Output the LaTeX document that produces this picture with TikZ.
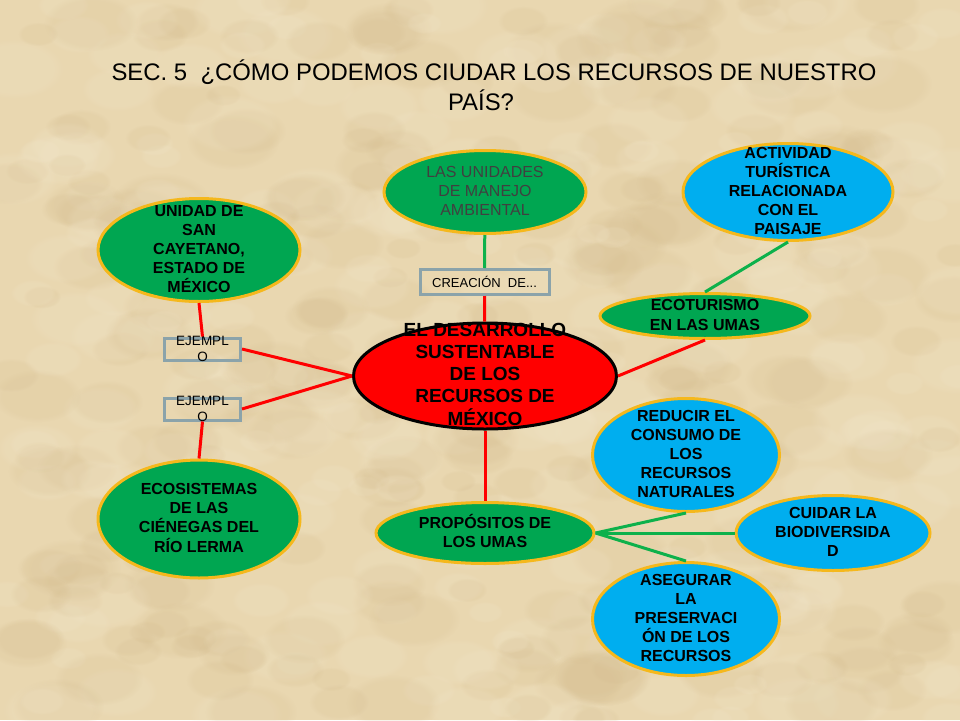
\documentclass[tikz,border=0pt]{standalone}
\usepackage{fontspec}
\setmainfont{Liberation Sans}
\usetikzlibrary{shapes.geometric,fadings}
\definecolor{paper}{HTML}{E9D7B0}
\definecolor{blotch}{HTML}{D2B98A}
\definecolor{pale}{HTML}{F5EAD0}
\definecolor{redline}{HTML}{FF0000}
\definecolor{greenfill}{HTML}{00A651}
\definecolor{greenline}{HTML}{0DB14B}
\definecolor{bluefill}{HTML}{00AEEF}
\definecolor{goldline}{HTML}{F5B81C}
\definecolor{boxline}{HTML}{8BA3AA}
\newcommand{\lbl}[3]{\makebox[0pt]{\smash{\raisebox{-.5em}{\fontsize{#1}{#2}\selectfont
  \begin{tabular}{@{}c@{}}#3\end{tabular}}}}}
\begin{document}
\begin{tikzpicture}[x=1pt,y=-1pt,
    bubble/.style={ellipse,draw=goldline,line width=3pt,inner sep=0pt},
    greenbub/.style={bubble,fill=greenfill},
    bluebub/.style={bubble,fill=bluefill},
    tagbox/.style={rectangle,draw=boxline,line width=3pt,inner sep=0pt},
    redlink/.style={draw=redline,line width=3pt},
    greenlink/.style={draw=greenline,line width=3pt}]
  \useasboundingbox (0,0) rectangle (960,720);
  % paper
  \fill[paper] (0,0) rectangle (960,720);
  \pgfmathsetseed{7}
  \foreach \i in {1,...,260}{
    \pgfmathsetmacro{\bx}{random(0,960)}
    \pgfmathsetmacro{\by}{random(0,720)}
    \pgfmathsetmacro{\br}{random(18,50)}
    \fill[blotch,opacity=.16,path fading=circle with fuzzy edge 20 percent] (\bx,\by) ellipse [x radius=\br pt,y radius=.6*\br pt];
    \pgfmathsetmacro{\bx}{random(0,960)}
    \pgfmathsetmacro{\by}{random(0,720)}
    \fill[pale,opacity=.16,path fading=circle with fuzzy edge 20 percent] (\bx,\by) ellipse [x radius=\br pt,y radius=.6*\br pt];
  }
  \node[inner sep=0pt,align=center,font=\fontsize{23.9}{30}\selectfont] (titulo) at (494,85)
    {SEC. 5\ \ ¿CÓMO PODEMOS CIUDAR LOS RECURSOS DE NUESTRO\\PAÍS?\hspace*{26pt}};
  % bubbles
  \node[ellipse,draw=black,fill=redline,line width=3pt,inner sep=0pt,minimum width=263pt,minimum height=106pt] (central) at (485,376)
    {\textbf{\lbl{19}{22}{EL DESARROLLO\\SUSTENTABLE\\DE LOS\\RECURSOS DE\\MÉXICO}}};
  \node[greenbub,minimum width=202pt,minimum height=83pt] (manejo) at (485,192)
    {\color{black!75}\lbl{16}{19}{LAS UNIDADES\\DE MANEJO\\AMBIENTAL}};
  \node[bluebub,minimum width=210pt,minimum height=97pt] (actividad) at (788,192)
    {\textbf{\lbl{16}{19}{ACTIVIDAD\\TURÍSTICA\\RELACIONADA\\CON EL\\PAISAJE}}};
  \node[greenbub,minimum width=210pt,minimum height=45pt] (ecoturismo) at (705,316)
    {\textbf{\lbl{16}{20}{ECOTURISMO\\EN LAS UMAS}}};
  \node[greenbub,minimum width=202pt,minimum height=103pt] (cayetano) at (199,250)
    {\textbf{\lbl{16}{19}{UNIDAD DE\\SAN\\CAYETANO,\\ESTADO DE\\MÉXICO}}};
  \node[greenbub,minimum width=202pt,minimum height=118pt] (lerma) at (199,519)
    {\textbf{\lbl{16}{19}{ECOSISTEMAS\\DE LAS\\CIÉNEGAS DEL\\RÍO LERMA}}};
  \node[greenbub,minimum width=218pt,minimum height=61pt] (propositos) at (485,533)
    {\textbf{\lbl{16}{19}{PROPÓSITOS DE\\LOS UMAS}}};
  \node[bluebub,minimum width=187pt,minimum height=113pt] (reducir) at (686,455)
    {\textbf{\lbl{16}{19}{REDUCIR EL\\CONSUMO DE\\LOS\\RECURSOS\\NATURALES}}};
  \node[bluebub,minimum width=194pt,minimum height=75pt] (cuidar) at (833,533)
    {\textbf{\lbl{16}{19}{CUIDAR LA\\BIODIVERSIDA\\D}}};
  \node[bluebub,minimum width=187pt,minimum height=113pt] (asegurar) at (686,619)
    {\textbf{\lbl{16}{19}{ASEGURAR\\LA\\PRESERVACI\\ÓN DE LOS\\RECURSOS}}};
  % boxes
  \node[tagbox,minimum width=129pt,minimum height=25pt] (creacion) at (484.5,282)
    {\lbl{13}{15}{CREACIÓN\ \ DE...}};
  \node[tagbox,minimum width=76pt,minimum height=22pt] (ejemploa) at (202.5,349)
    {\lbl{13.5}{16}{EJEMPL\\O}};
  \node[tagbox,minimum width=76pt,minimum height=22pt] (ejemplob) at (202.5,409)
    {\lbl{13.5}{16}{EJEMPL\\O}};
  % links
  \draw[greenlink] (manejo) -- (creacion);
  \draw[redlink] (creacion) -- (central);
  \draw[redlink] (central.west) -- (ejemploa.east);
  \draw[redlink] (central.west) -- (ejemplob.east);
  \draw[redlink] (cayetano.south) -- (ejemploa.north);
  \draw[redlink] (ejemplob.south) -- (lerma.north);
  \draw[redlink] (central.east) -- (ecoturismo.south);
  \draw[greenlink] (ecoturismo.north) -- (actividad.south);
  \draw[redlink] (central) -- (propositos);
  \draw[greenlink] (propositos.east) -- (reducir.south);
  \draw[greenlink] (propositos.east) -- (cuidar.west);
  \draw[greenlink] (propositos.east) -- (asegurar.north);
\end{tikzpicture}
\end{document}
